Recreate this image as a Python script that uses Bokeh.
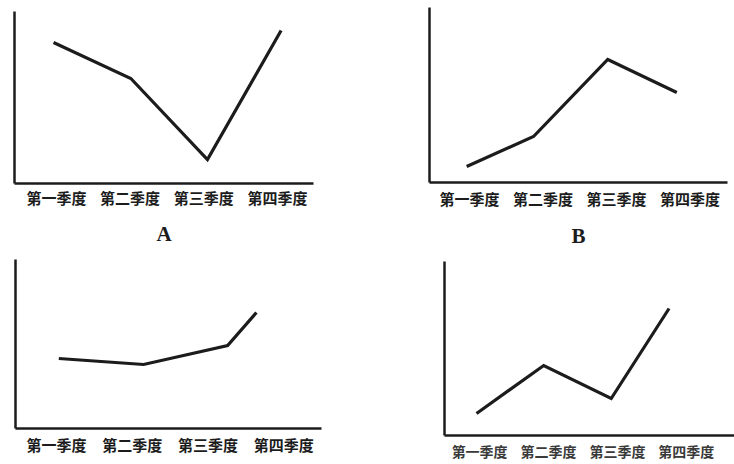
from bokeh.plotting import figure
from bokeh.layouts import column, row
from bokeh.models import FixedTicker, Range1d
from bokeh.embed import file_html
from bokeh.resources import INLINE

quarters = ["第一季度", "第二季度", "第三季度", "第四季度"]
tick_pos = [1, 2, 3, 4]

# x positions (in quarter units) and heights
a_x = [0.96, 2.01, 3.05, 4.05]
a_y = [141, 105, 24, 153]
b_x = [0.96, 1.87, 2.88, 3.82]
b_y = [16, 46, 123, 90]
c_x = [1.03, 2.15, 3.26, 3.64]
c_y = [70, 64, 83, 116]
d_x = [0.955, 1.93, 2.91, 3.75]
d_y = [22, 70, 37, 127]

panel_names = ["A", "B", "", ""]

INK = "#1c1c1c"
FONT = "Noto Sans CJK SC"


def panel(xs, ys, name, width, height, borders, xr, ymax, lab_color=INK,
          lab_size="15px", standoff=3, name_standoff=11):
    left, right, top, bottom = borders
    p = figure(width=width, height=height, output_backend="svg", toolbar_location=None,
               x_range=Range1d(*xr), y_range=Range1d(0, ymax),
               min_border_left=left, min_border_right=right,
               min_border_top=top, min_border_bottom=bottom)
    p.background_fill_color = "white"
    p.border_fill_color = "white"
    p.outline_line_color = None
    p.grid.visible = False
    p.line(xs, ys, line_color=INK, line_width=3.2, line_join="miter")

    xa = p.xaxis[0]
    xa.ticker = FixedTicker(ticks=tick_pos, minor_ticks=[])
    xa.major_label_overrides = {t: q for t, q in zip(tick_pos, quarters)}
    xa.major_label_text_font = FONT
    xa.major_label_text_font_style = "bold"
    xa.major_label_text_font_size = lab_size
    xa.major_label_text_color = lab_color
    xa.major_label_standoff = standoff
    xa.major_tick_line_color = None
    xa.minor_tick_line_color = None
    xa.major_tick_in = 0
    xa.major_tick_out = 0
    xa.minor_tick_in = 0
    xa.minor_tick_out = 0
    xa.axis_line_color = INK
    xa.axis_line_width = 2.5
    if name:
        xa.axis_label = name
        xa.axis_label_text_font = "Liberation Serif"
        xa.axis_label_text_font_style = "bold"
        xa.axis_label_text_font_size = "21px"
        xa.axis_label_text_color = INK
        xa.axis_label_standoff = name_standoff

    ya = p.yaxis[0]
    ya.ticker = FixedTicker(ticks=[], minor_ticks=[])
    ya.major_label_standoff = 0
    ya.major_tick_line_color = None
    ya.minor_tick_line_color = None
    ya.major_tick_in = 0
    ya.major_tick_out = 0
    ya.minor_tick_in = 0
    ya.minor_tick_out = 0
    ya.axis_line_color = INK
    ya.axis_line_width = 2.5
    return p


pA = panel(a_x, a_y, panel_names[0], 367, 250, (14, 54, 11, 67), (0.43, 4.49), 172)
pB = panel(b_x, b_y, panel_names[1], 367, 250, (62, 7, 7, 68), (0.454, 4.51), 175,
           standoff=5, name_standoff=12)
pC = panel(c_x, c_y, panel_names[2], 367, 214, (15, 46, 9, 36), (0.458, 4.50), 169,
           standoff=5)
pD = panel(d_x, d_y, panel_names[3], 367, 214, (77, 0, 11, 29), (0.49, 4.70), 174,
           lab_color="#3a3a3a", lab_size="14px", standoff=5)

# each figure wrapped on its own so that frames are not aligned across a row
layout = column(row(column(pA), column(pB)), row(column(pC), column(pD)))
open("out.html", "w").write(file_html(layout, INLINE))
